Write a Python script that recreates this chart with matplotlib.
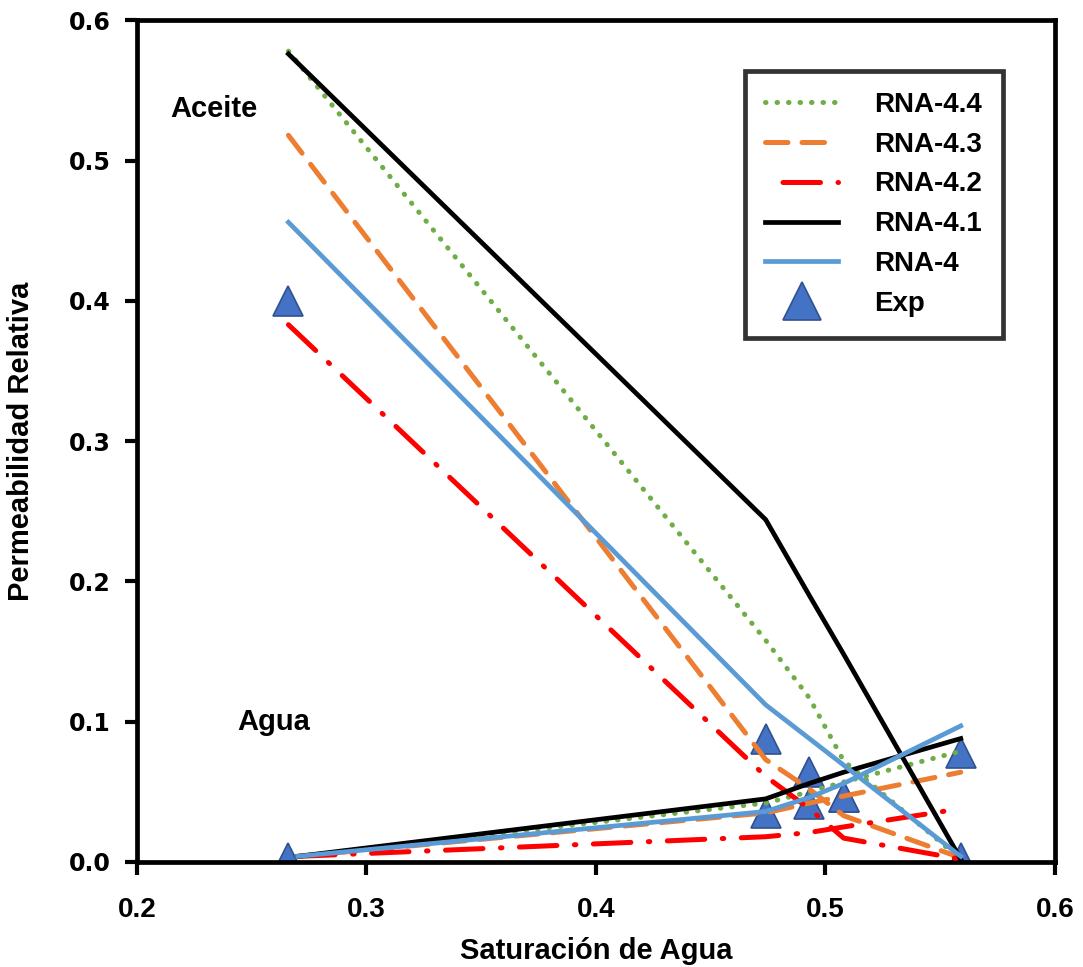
import matplotlib
matplotlib.use("Agg")
import matplotlib.pyplot as plt
from matplotlib.lines import Line2D

plt.rcParams['font.family'] = ['Liberation Sans', 'DejaVu Sans']
plt.rcParams['font.weight'] = 'bold'

# Water saturation points
sw_o = [0.266, 0.474, 0.493, 0.508, 0.559]
sw_w = [0.270, 0.474, 0.493, 0.508, 0.559]

# Oil (kro) and water (krw) relative permeability per model
kro_44 = [0.578, 0.158, 0.117, 0.072, 0.002]
krw_44 = [0.004, 0.042, 0.050, 0.057, 0.079]
kro_43 = [0.518, 0.073, 0.052, 0.033, 0.003]
krw_43 = [0.004, 0.035, 0.042, 0.047, 0.064]
kro_42 = [0.383, 0.061, 0.038, 0.017, 0.002]
krw_42 = [0.004, 0.018, 0.021, 0.025, 0.038]
kro_41 = [0.576, 0.244, 0.190, 0.148, 0.002]
krw_41 = [0.004, 0.045, 0.056, 0.064, 0.088]
kro_4 = [0.456, 0.112, 0.088, 0.069, 0.004]
krw_4 = [0.004, 0.036, 0.046, 0.056, 0.097]

# Experimental
exp_sw = [0.266, 0.474, 0.493, 0.508, 0.559]
exp_kro = [0.400, 0.088, 0.064, 0.046, 0.003]
exp_krw = [0.003, 0.035, 0.041, 0.046, 0.078]

labels = ['RNA-4.4', 'RNA-4.3', 'RNA-4.2', 'RNA-4.1', 'RNA-4', 'Exp']
xtick_vals = [0.2, 0.3, 0.4, 0.5, 0.6]
ytick_vals = [0.0, 0.1, 0.2, 0.3, 0.4, 0.5, 0.6]

fig = plt.figure(figsize=(10.83, 9.67), dpi=100)
ax = fig.add_axes([0.1265, 0.1086, 0.8475, 0.8704])

tri_face = '#4472C4'
tri_edge = '#2F528F'
ax.plot(exp_sw, exp_kro, linestyle='none', marker='^', ms=21,
        mfc=tri_face, mec=tri_edge, mew=1.2, zorder=2)
ax.plot(exp_sw, exp_krw, linestyle='none', marker='^', ms=21,
        mfc=tri_face, mec=tri_edge, mew=1.2, zorder=2)

styles = {
    'RNA-4.4': dict(color='#70AD47', lw=3.6, linestyle=(0, (0.1, 2.2)), dash_capstyle='round'),
    'RNA-4.3': dict(color='#ED7D31', lw=3.6, linestyle=(0, (4.5, 2.8)), dash_capstyle='round'),
    'RNA-4.2': dict(color='#FF0000', lw=3.6, linestyle=(0, (7.5, 3.5, 0.3, 3.5)), dash_capstyle='round'),
    'RNA-4.1': dict(color='black', lw=3.4),
    'RNA-4': dict(color='#5B9BD5', lw=3.4),
}
series = [('RNA-4.4', kro_44, krw_44), ('RNA-4.3', kro_43, krw_43),
          ('RNA-4.2', kro_42, krw_42), ('RNA-4.1', kro_41, krw_41),
          ('RNA-4', kro_4, krw_4)]
for name, ko, kw in series:
    st = styles[name]
    ax.plot(sw_o, ko, zorder=3, **st)
    ax.plot(sw_w, kw, zorder=3, **st)

ax.set_xlim(0.2, 0.6)
ax.set_ylim(0.0, 0.6)
ax.set_xticks(xtick_vals)
ax.set_xticklabels([f'{v:.1f}' for v in xtick_vals], fontsize=20, fontweight='bold')
ax.set_yticks(ytick_vals)
ax.set_yticklabels([f'{v:.1f}' for v in ytick_vals], fontsize=17, fontweight='bold',
                   family=['DejaVu Sans'])
for s in ax.spines.values():
    s.set_linewidth(3.4)
ax.tick_params(direction='out', length=9, width=3)
ax.xaxis.set_tick_params(pad=16)
ax.yaxis.set_tick_params(pad=10)

ax.set_xlabel('Saturación de Agua', fontsize=21, fontweight='bold', labelpad=10)
ax.set_ylabel('Permeabilidad Relativa', fontsize=21, fontweight='bold', labelpad=24)

ax.text(0.2145, 0.537, 'Aceite', fontsize=21, fontweight='bold', ha='left', va='center')
ax.text(0.2435, 0.1, 'Agua', fontsize=21, fontweight='bold', ha='left', va='center')

handles = []
for name in labels[:-1]:
    st = dict(styles[name])
    if name == 'RNA-4.2':
        st['linestyle'] = (11.3, (7.5, 3.5, 0.3, 3.5))
    handles.append(Line2D([], [], **st))
handles.append(Line2D([], [], linestyle='none', marker='^', ms=27,
                      mfc=tri_face, mec=tri_edge, mew=1.2))
leg = ax.legend(handles, labels, loc='upper right', bbox_to_anchor=(0.943, 0.94),
                frameon=True, fancybox=False, edgecolor='black',
                prop={'weight': 'bold', 'size': 20}, handlelength=2.6,
                handletextpad=1.3, labelspacing=0.5, borderpad=0.75,
                borderaxespad=0)
leg.get_frame().set_linewidth(3.4)

fig.savefig('out.png', dpi=100)
